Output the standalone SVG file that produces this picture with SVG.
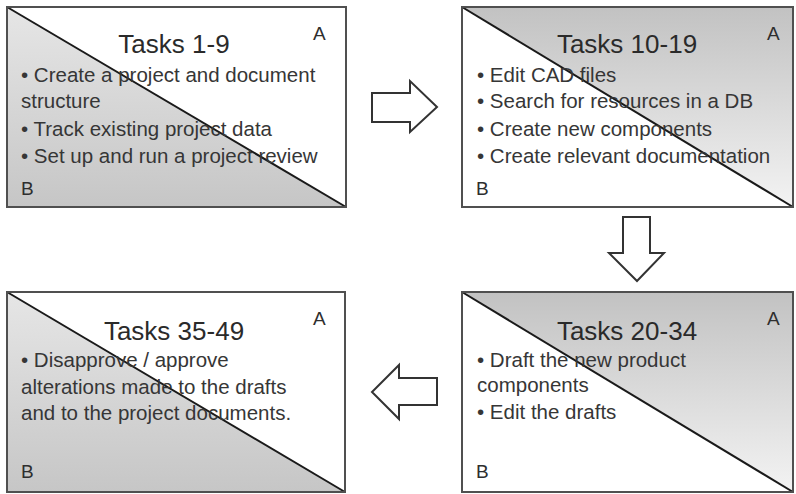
<svg xmlns="http://www.w3.org/2000/svg" width="796" height="494" viewBox="0 0 796 494">
<defs>
<linearGradient id="gB" x1="0" y1="0" x2="0" y2="1"><stop offset="0" stop-color="#e6e6e6"/><stop offset="1" stop-color="#c6c6c6"/></linearGradient>
<linearGradient id="gA" x1="0" y1="0" x2="0" y2="1"><stop offset="0" stop-color="#c2c2c2"/><stop offset="1" stop-color="#f3f3f3"/></linearGradient>
</defs>
<style>
.frame{fill:none;stroke:#505050;stroke-width:2}
.diag{stroke:#1a1a1a;stroke-width:2}
.title{font-family:"Liberation Sans",Arial,sans-serif;font-size:26px;fill:#2a2a2a;text-anchor:middle}
.item{font-family:"Liberation Sans",Arial,sans-serif;font-size:20.5px;fill:#363636}
.lbl{font-family:"Liberation Sans",Arial,sans-serif;font-size:19px;fill:#2e2e2e}
.arrow{fill:#fff;stroke:#333;stroke-width:2;stroke-linejoin:miter}
</style>
<rect width="796" height="494" fill="#fff"/>
<g id="node1">
<rect x="7" y="7" width="339" height="200" fill="#fff"/>
<polygon points="7,7 7,207 346,207" fill="url(#gB)"/>
<line class="diag" x1="7" y1="7" x2="346" y2="207"/>
<rect class="frame" x="7" y="7" width="339" height="200"/>
<text class="title" x="174" y="53">Tasks 1-9</text>
<text class="lbl" x="313" y="40">A</text>
<text class="lbl" x="21" y="195">B</text>
<text class="item" x="21" y="82">• Create a project and document</text>
<text class="item" x="21" y="108">structure</text>
<text class="item" x="21" y="136">• Track existing project data</text>
<text class="item" x="21" y="163">• Set up and run a project review</text>
</g>
<g id="node2">
<rect x="462" y="7" width="331" height="200" fill="#fff"/>
<polygon points="462,7 793,7 793,207" fill="url(#gA)"/>
<line class="diag" x1="462" y1="7" x2="793" y2="207"/>
<rect class="frame" x="462" y="7" width="331" height="200"/>
<text class="title" x="627" y="53">Tasks 10-19</text>
<text class="lbl" x="767" y="40">A</text>
<text class="lbl" x="476" y="195">B</text>
<text class="item" x="477" y="82">• Edit CAD files</text>
<text class="item" x="477" y="108">• Search for resources in a DB</text>
<text class="item" x="477" y="136">• Create new components</text>
<text class="item" x="477" y="163">• Create relevant documentation</text>
</g>
<g id="node3">
<rect x="7" y="292" width="338" height="200" fill="#fff"/>
<polygon points="7,292 7,492 345,492" fill="url(#gB)"/>
<line class="diag" x1="7" y1="292" x2="345" y2="492"/>
<rect class="frame" x="7" y="292" width="338" height="200"/>
<text class="title" x="174" y="340">Tasks 35-49</text>
<text class="lbl" x="313" y="325">A</text>
<text class="lbl" x="21" y="478">B</text>
<text class="item" x="21" y="367">• Disapprove / approve</text>
<text class="item" x="21" y="394">alterations made to the drafts</text>
<text class="item" x="21" y="420">and to the project documents.</text>
</g>
<g id="node4">
<rect x="462" y="292" width="331" height="200" fill="#fff"/>
<polygon points="462,292 793,292 793,492" fill="url(#gA)"/>
<line class="diag" x1="462" y1="292" x2="793" y2="492"/>
<rect class="frame" x="462" y="292" width="331" height="200"/>
<text class="title" x="627" y="340">Tasks 20-34</text>
<text class="lbl" x="767" y="325">A</text>
<text class="lbl" x="476" y="478">B</text>
<text class="item" x="477" y="367">• Draft the new product</text>
<text class="item" x="477" y="392">components</text>
<text class="item" x="477" y="419">• Edit the drafts</text>
</g>
<g id="connectors">
<polygon class="arrow" points="372,93 410,93 410,81 437,107 410,132 410,122 372,122"/>
<polygon class="arrow" points="623,217 650,217 650,253 664,253 637,281 609,253 623,253"/>
<polygon class="arrow" points="437,378 399,378 399,365 372,392 399,419 399,405 437,405"/>
</g>
</svg>
